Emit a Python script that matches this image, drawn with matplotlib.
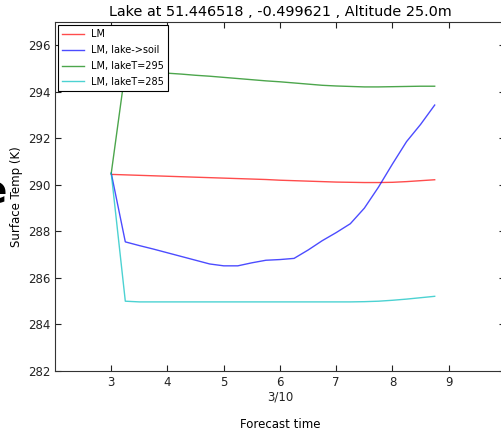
import numpy as np
from matplotlib import pyplot as plt

# forecast time (hours, 3/10)
hours = [3.0, 3.25, 3.5, 3.75, 4.0, 4.25, 4.5, 4.75, 5.0, 5.25, 5.5, 5.75,
         6.0, 6.25, 6.5, 6.75, 7.0, 7.25, 7.5, 7.75, 8.0, 8.25, 8.5, 8.75]

lm = [290.45, 290.43, 290.41, 290.39, 290.37, 290.35, 290.33, 290.31,
      290.29, 290.27, 290.25, 290.23, 290.20, 290.18, 290.16, 290.14,
      290.12, 290.11, 290.10, 290.10, 290.11, 290.14, 290.18, 290.22]
lm_soil = [290.50, 287.55, 287.39, 287.24, 287.08, 286.92, 286.76, 286.60,
           286.52, 286.52, 286.65, 286.76, 286.79, 286.84, 287.20, 287.60,
           287.95, 288.33, 289.00, 289.90, 290.90, 291.86, 292.60, 293.43]
lm_295 = [290.50, 294.93, 294.88, 294.84, 294.80, 294.76, 294.71, 294.67,
          294.62, 294.57, 294.52, 294.47, 294.43, 294.38, 294.33, 294.28,
          294.25, 294.23, 294.21, 294.21, 294.22, 294.23, 294.24, 294.24]
lm_285 = [290.50, 285.00, 284.97, 284.97, 284.97, 284.97, 284.97, 284.97,
          284.97, 284.97, 284.97, 284.97, 284.97, 284.97, 284.97, 284.97,
          284.97, 284.97, 284.98, 285.00, 285.04, 285.09, 285.15, 285.21]

labels = ['LM', 'LM, lake->soil', 'LM, lakeT=295', 'LM, lakeT=285']
colours = ['r', 'b', 'g', 'c']

xticks = [3, 4, 5, 6, 7, 8, 9]
xticklabels = ['3', '4', '5', '6\n3/10', '7', '8', '9']
yticks = [282, 284, 286, 288, 290, 292, 294, 296]

# %%
fig = plt.figure(figsize=(5.02, 4.32), dpi=100)
ax = fig.add_axes([55 / 502, 61 / 432, 450 / 502, 349 / 432])

for series, lab, col in zip([lm, lm_soil, lm_295, lm_285], labels, colours):
    ax.plot(hours, series, color=col, lw=1.0, alpha=0.7, label=lab)

ax.set_xlim(2, 10)
ax.set_ylim(282, 297)
ax.set_xticks(xticks)
ax.set_xticklabels(xticklabels)
ax.set_yticks(yticks)
ax.tick_params(direction='in', top=True, right=True, labelsize=8.5,
               length=4, colors='#222222')
for sp in ax.spines.values():
    sp.set_color('#333333')

ax.set_title('Lake at 51.446518 , -0.499621 , Altitude 25.0m', fontsize=10.4,
             pad=4)
ax.set_xlabel('Forecast time', fontsize=8.5, labelpad=10)
ax.set_ylabel('Surface Temp (K)', fontsize=8.5, labelpad=3)

leg = ax.legend(loc='upper left', fontsize=7, fancybox=False,
                framealpha=1, edgecolor='black', handlelength=2.2,
                borderaxespad=0.35, labelspacing=0.6)
leg.get_frame().set_linewidth(0.8)

# bit of a cut-off letter at the left edge
fig.text(7 / 502, 1 - 192 / 432, 'e', fontsize=28, fontweight='bold',
         ha='right', va='center')

fig.savefig('out.png', dpi=100)
